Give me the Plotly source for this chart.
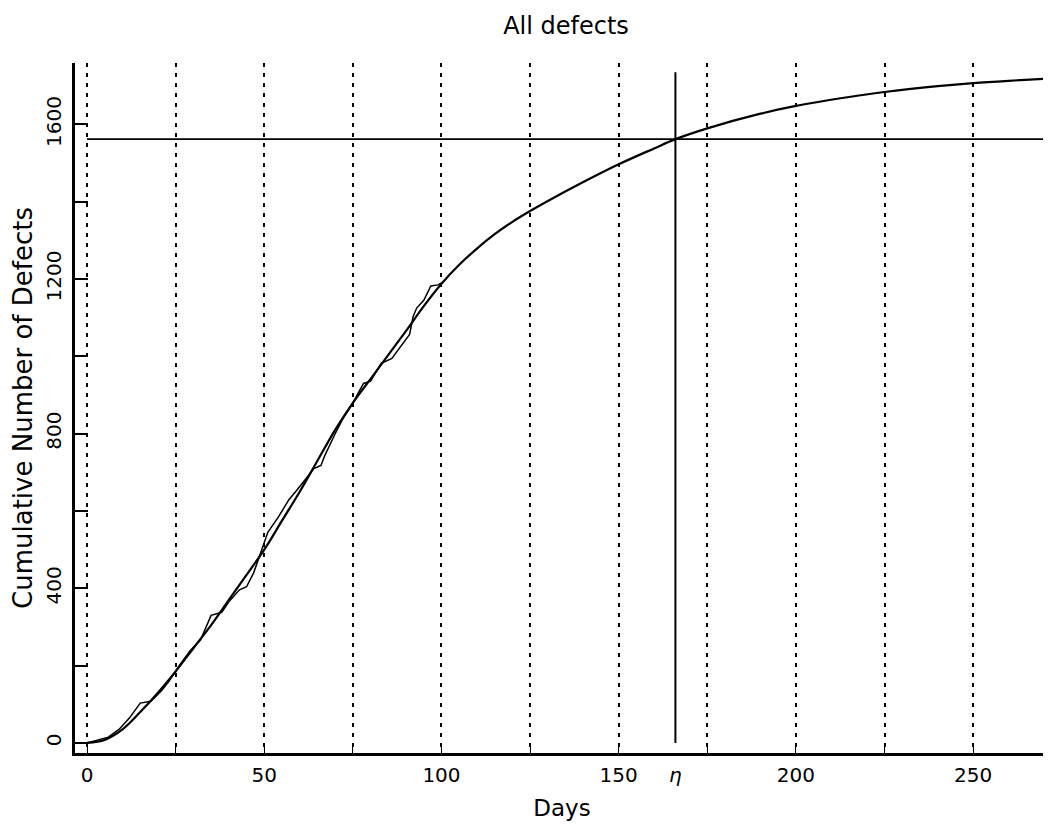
import plotly.graph_objects as go

# Observed cumulative defects (jagged series)
obs_days = [0, 2, 6, 9, 12, 15, 18, 21, 23, 26, 29, 32, 35, 38, 40, 43, 45, 47, 49, 51,
            54, 57, 59, 62, 64, 66, 67, 70, 72, 75, 78, 80, 83, 86, 88, 91, 92, 93, 95,
            97, 99, 100]
obs_vals = [0, 5, 15, 35, 65, 103, 108, 135, 158, 200, 238, 266, 330, 338, 365, 396, 404,
            440, 490, 545, 585, 630, 652, 688, 710, 718, 742, 800, 836, 880, 930, 936, 982,
            995, 1020, 1057, 1103, 1125, 1145, 1182, 1185, 1190]

# Fitted model curve
fit_days = [0, 5, 10, 15, 20, 25, 30, 35, 40, 45, 50, 55, 60, 65, 70, 75, 80, 85, 90, 95,
            100, 105, 110, 115, 120, 125, 130, 140, 150, 160, 166, 175, 190, 200, 215, 225,
            240, 250, 260, 270]
fit_vals = [0, 8, 35, 80, 130, 185, 245, 305, 370, 435, 500, 575, 650, 730, 810, 880, 942,
            1004, 1066, 1130, 1188, 1237, 1279, 1316, 1348, 1376, 1402, 1451, 1497, 1538,
            1562, 1590, 1628, 1648, 1671, 1684, 1699, 1707, 1713, 1718]

eta = 166
eta_level = 1562
eta_top = 1735
day_max = 270

x_tickvals = [0, 50, 100, 150, eta, 200, 250]
x_ticktext = ["0", "50", "100", "150", "<i>η</i>", "200", "250"]
y_tickvals = [0, 400, 800, 1200, 1600]
x_range = [-3.4, 271.4]

FONT = "DejaVu Sans"

fig = go.Figure()
fig.add_trace(go.Scatter(x=obs_days, y=obs_vals, mode="lines",
                         line=dict(color="black", width=1.5), hoverinfo="skip"))
fig.add_trace(go.Scatter(x=fit_days, y=fit_vals, mode="lines", line_shape="spline",
                         line=dict(color="black", width=2.2), hoverinfo="skip"))
fig.add_trace(go.Scatter(x=[0, day_max], y=[eta_level, eta_level], mode="lines",
                         xaxis="x2",
                         line=dict(color="black", width=1.8), hoverinfo="skip"))
fig.add_trace(go.Scatter(x=[eta, eta], y=[0, eta_top], mode="lines",
                         line=dict(color="black", width=2), hoverinfo="skip"))

# page has an 8px body margin, so the figure is sized/placed to compensate
fig.update_layout(
    width=1043, height=817,
    margin=dict(l=67, r=2, t=55, b=72),
    paper_bgcolor="white", plot_bgcolor="white",
    showlegend=False,
    font=dict(family=FONT, color="black", size=20),
    title=dict(text="All defects", x=0.535, xanchor="center",
               y=0.979, yanchor="middle",
               font=dict(family=FONT, size=24, color="black")),
    xaxis=dict(
        range=x_range, automargin=False,
        tickmode="array", tickvals=x_tickvals, ticktext=x_ticktext,
        ticks="", showgrid=False,
        showline=True, linecolor="black", linewidth=3,
        zeroline=False,
        tickfont=dict(size=20), ticklabelstandoff=2,
        title=dict(text="Days", font=dict(size=23), standoff=14),
    ),
    xaxis2=dict(
        overlaying="x", matches="x", range=x_range, automargin=False,
        side="bottom", anchor="y",
        tickmode="linear", tick0=0, dtick=25,
        ticks="inside", ticklen=7, tickwidth=1.2, tickcolor="black",
        showticklabels=False,
        showgrid=True, gridcolor="black", gridwidth=1.8, griddash="4px,6px",
        showline=False, zeroline=False,
    ),
    yaxis=dict(
        range=[-26, 1759], automargin=False,
        tickmode="array", tickvals=y_tickvals,
        tickangle=-90,
        ticks="inside", ticklen=13, tickwidth=1.5, tickcolor="black",
        minor=dict(dtick=200, tick0=0, ticks="inside", ticklen=13, tickcolor="black",
                   tickwidth=1.5),
        showgrid=False, zeroline=False,
        showline=True, linecolor="black", linewidth=3,
        tickfont=dict(size=20), ticklabelstandoff=3,
        title=dict(text="Cumulative Number of Defects", font=dict(size=26), standoff=10),
    ),
)

fig.write_html("out.html")
